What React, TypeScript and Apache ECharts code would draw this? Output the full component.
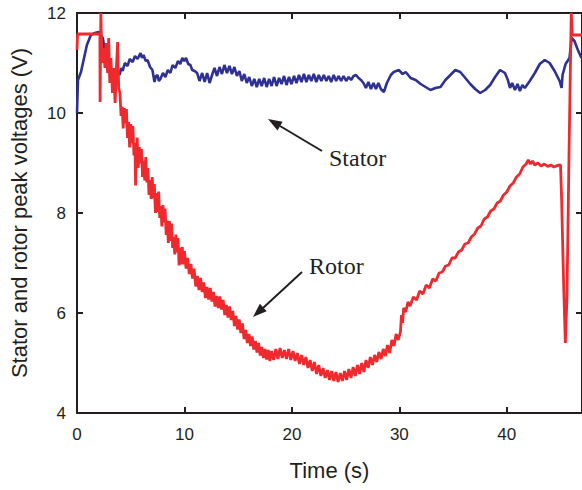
import { useEffect, useRef } from 'react';
import * as echarts from 'echarts';

// Stator peak voltage (blue)
const statorTime = [
  0, 0.09, 0.37, 0.92, 1.29, 1.66, 2.03, 2.4, 2.96, 3.33, 3.5, 3.7, 3.97, 4.1, 4.25, 4.45, 4.71, 4.9, 5.18, 5.4,
  5.64, 5.91, 6.05, 6.19, 6.4, 6.56, 6.8, 7.02, 7.21, 7.35, 7.49, 7.62, 7.76, 8.0, 8.23, 8.45, 8.69, 8.9, 9.15, 9.4,
  9.61, 9.8, 9.98, 10.15, 10.35, 10.55, 10.72, 10.95, 11.18, 11.4, 11.65, 11.88, 12.11, 12.34, 12.57, 12.8, 13.03, 13.26, 13.49, 13.72,
  13.96, 14.19, 14.42, 14.65, 14.88, 15.11, 15.34, 15.57, 15.8, 16.03, 16.27, 16.5, 16.73, 16.96, 17.19, 17.42, 17.65, 17.88, 18.11, 18.34,
  18.58, 18.81, 19.04, 19.27, 19.5, 19.73, 19.96, 20.2, 20.43, 20.66, 20.89, 21.12, 21.35, 21.58, 21.81, 22.04, 22.27, 22.5, 22.74, 22.97,
  23.2, 23.43, 23.66, 23.89, 24.12, 24.35, 24.58, 24.81, 25.05, 25.28, 25.51, 25.74, 25.97, 26.2, 26.43, 26.66, 26.89, 27.12, 27.36, 27.59,
  27.82, 28.05, 28.28, 28.56, 28.84, 29.21, 29.48, 29.94, 30.31, 30.59, 31.05, 31.52, 31.98, 32.44, 32.9, 33.36, 33.83, 34.29, 34.75, 35.21,
  35.67, 36.14, 36.6, 37.06, 37.52, 37.99, 38.45, 38.91, 39.37, 39.83, 40.1, 40.3, 40.5, 40.76, 41.0, 41.22, 41.45, 41.68, 42.14, 42.61,
  43.07, 43.53, 43.99, 44.45, 44.92, 45.1, 45.19, 45.47, 45.84, 46.03, 46.3, 46.58, 46.95,
];
const statorVolt = [
  10.0, 10.66, 10.82, 11.36, 11.56, 11.6, 11.62, 11.5, 10.8, 10.86, 10.78, 10.9, 10.76, 10.9, 10.84, 11.0, 10.94, 11.08, 11.02, 11.14,
  11.08, 11.2, 11.1, 11.16, 11.04, 11.06, 10.92, 10.86, 10.62, 10.74, 10.76, 10.64, 10.68, 10.8, 10.72, 10.86, 10.8, 10.96, 10.9, 11.04,
  10.98, 11.1, 11.04, 11.1, 10.98, 10.96, 10.86, 10.84, 10.8, 10.64, 10.8, 10.62, 10.8, 10.6, 10.76, 10.9, 10.74, 10.92, 10.78, 10.96,
  10.8, 10.94, 10.78, 10.92, 10.74, 10.84, 10.64, 10.78, 10.6, 10.72, 10.54, 10.68, 10.52, 10.68, 10.54, 10.7, 10.52, 10.68, 10.54, 10.72,
  10.54, 10.7, 10.58, 10.74, 10.56, 10.72, 10.58, 10.74, 10.6, 10.76, 10.62, 10.78, 10.62, 10.76, 10.64, 10.78, 10.62, 10.76, 10.64, 10.76,
  10.64, 10.74, 10.62, 10.76, 10.64, 10.74, 10.64, 10.74, 10.64, 10.72, 10.66, 10.74, 10.76, 10.7, 10.66, 10.6, 10.5, 10.62, 10.48, 10.6,
  10.48, 10.6, 10.48, 10.42, 10.6, 10.76, 10.82, 10.86, 10.78, 10.82, 10.7, 10.66, 10.58, 10.52, 10.46, 10.5, 10.52, 10.66, 10.76, 10.86,
  10.82, 10.7, 10.58, 10.48, 10.4, 10.46, 10.56, 10.72, 10.86, 10.8, 10.66, 10.5, 10.6, 10.46, 10.58, 10.44, 10.56, 10.5, 10.64, 10.8,
  10.98, 11.06, 11.0, 10.84, 10.64, 10.5, 10.76, 10.98, 11.1, 11.5, 11.44, 11.28, 11.1,
];

// Rotor peak voltage (red)
const rotorTime = [
  0, 0.05, 1.0, 2.13, 2.15, 2.22, 2.3, 2.4, 2.5, 2.6, 2.7, 2.85, 2.95, 3.05, 3.15, 3.3, 3.4, 3.55, 3.65, 3.78,
  3.88, 4.0, 4.1, 4.2, 4.3, 4.4, 4.5, 4.6, 4.7, 4.8, 4.9, 5.0, 5.1, 5.2, 5.3, 5.4, 5.45, 5.5, 5.6, 5.7,
  5.8, 5.9, 6.0, 6.1, 6.2, 6.3, 6.4, 6.5, 6.6, 6.7, 6.8, 6.9, 7.0, 7.1, 7.2, 7.3, 7.4, 7.5, 7.6, 7.7,
  7.8, 7.9, 8.0, 8.1, 8.2, 8.3, 8.4, 8.5, 8.6, 8.7, 8.8, 8.9, 9.0, 9.1, 9.2, 9.3, 9.4, 9.5, 9.6, 9.7,
  9.8, 9.9, 10.0, 10.15, 10.3, 10.45, 10.6, 10.75, 10.9, 11.05, 11.2, 11.35, 11.5, 11.65, 11.8, 11.95, 12.1, 12.25, 12.4, 12.55,
  12.7, 12.85, 13.0, 13.15, 13.3, 13.45, 13.6, 13.75, 13.9, 14.05, 14.2, 14.35, 14.5, 14.65, 14.8, 14.95, 15.1, 15.25, 15.4, 15.55,
  15.7, 15.85, 16.0, 16.15, 16.3, 16.45, 16.6, 16.75, 16.9, 17.05, 17.2, 17.35, 17.5, 17.65, 17.8, 17.95, 18.1, 18.3, 18.5, 18.7,
  18.9, 19.1, 19.3, 19.5, 19.7, 19.9, 20.1, 20.3, 20.5, 20.7, 20.9, 21.1, 21.3, 21.5, 21.7, 21.9, 22.1, 22.3, 22.5, 22.7,
  22.9, 23.1, 23.3, 23.5, 23.7, 23.9, 24.1, 24.3, 24.5, 24.7, 24.9, 25.1, 25.3, 25.5, 25.7, 25.9, 26.1, 26.3, 26.5, 26.7,
  26.9, 27.1, 27.3, 27.5, 27.7, 27.9, 28.1, 28.3, 28.5, 28.7, 28.9, 29.1, 29.3, 29.5, 29.7, 29.9, 30.1, 30.2, 30.3, 30.4,
  30.6, 30.8, 31.0, 31.3, 31.6, 31.9, 32.2, 32.5, 32.8, 33.1, 33.4, 33.7, 34.0, 34.3, 34.6, 34.9, 35.2, 35.5, 35.8, 36.1,
  36.4, 36.7, 37.0, 37.3, 37.6, 37.9, 38.2, 38.5, 38.8, 39.1, 39.4, 39.7, 40.0, 40.3, 40.6, 40.9, 41.2, 41.5, 41.8, 42.0,
  42.2, 42.4, 42.6, 42.9, 43.2, 43.5, 43.8, 44.1, 44.4, 44.7, 45.0, 45.1, 45.3, 45.45, 45.6, 45.8, 46.0, 46.1, 47.0,
];
const rotorVolt = [
  11.26, 11.58, 11.58, 11.58, 10.22, 12.0, 11.2, 11.0, 11.3, 10.9, 11.4, 10.8, 11.5, 10.6, 11.1, 10.4, 10.9, 10.2, 10.8, 11.42,
  10.5, 10.39, 9.94, 10.13, 9.69, 10.1, 9.79, 10.08, 9.5, 9.82, 9.31, 9.78, 9.39, 9.74, 9.15, 9.4, 8.55, 9.1, 9.51, 8.9,
  9.32, 8.99, 9.28, 8.72, 9.05, 8.65, 9.12, 8.61, 8.9, 8.36, 8.66, 8.28, 8.72, 8.29, 8.58, 8.0, 8.4, 8.02, 8.43, 7.9,
  8.14, 7.73, 8.16, 7.81, 8.09, 7.56, 7.85, 7.4, 7.84, 7.44, 7.79, 7.3, 7.52, 7.17, 7.57, 7.21, 7.5, 6.95, 7.31, 6.97,
  7.32, 6.97, 7.24, 6.89, 7.1, 6.78, 6.98, 6.69, 6.89, 6.53, 6.74, 6.46, 6.7, 6.42, 6.61, 6.3, 6.52, 6.27, 6.5, 6.23,
  6.42, 6.13, 6.34, 6.1, 6.33, 6.07, 6.26, 5.96, 6.16, 5.91, 6.13, 5.86, 6.04, 5.74, 5.94, 5.67, 5.87, 5.6, 5.79, 5.48,
  5.66, 5.4, 5.58, 5.34, 5.53, 5.27, 5.44, 5.21, 5.4, 5.15, 5.32, 5.1, 5.28, 5.07, 5.26, 5.04, 5.24, 5.06, 5.28, 5.08,
  5.3, 5.1, 5.26, 5.08, 5.28, 5.06, 5.24, 5.04, 5.2, 4.98, 5.16, 4.96, 5.12, 4.9, 5.06, 4.84, 5.02, 4.78, 4.96, 4.74,
  4.9, 4.7, 4.86, 4.66, 4.84, 4.64, 4.82, 4.62, 4.8, 4.64, 4.84, 4.66, 4.88, 4.7, 4.92, 4.74, 4.96, 4.78, 5.0, 4.82,
  5.06, 4.9, 5.12, 4.96, 5.16, 5.02, 5.22, 5.08, 5.28, 5.14, 5.36, 5.2, 5.46, 5.34, 5.58, 5.46, 5.62, 5.96, 5.8, 6.1,
  6.02, 6.22, 6.14, 6.32, 6.26, 6.44, 6.38, 6.56, 6.5, 6.68, 6.64, 6.8, 6.82, 6.94, 6.96, 7.1, 7.1, 7.22, 7.26, 7.38,
  7.4, 7.52, 7.58, 7.7, 7.74, 7.88, 7.92, 8.04, 8.08, 8.2, 8.24, 8.36, 8.42, 8.54, 8.6, 8.72, 8.78, 8.92, 8.98, 9.06,
  8.98, 9.04, 8.96, 9.0, 8.94, 8.98, 8.93, 8.96, 8.92, 8.95, 8.96, 8.3, 6.5, 5.4, 6.3, 9.3, 12.0, 11.56, 11.56,
];

const xLabelName = 'Time (s)';
const yLabelName = 'Stator and rotor peak voltages (V)';

const AXIS_COLOR = '#231f20';
const SANS = '"Liberation Sans", Arial, Helvetica, sans-serif';
const SERIF = '"Liberation Serif", "Times New Roman", serif';

export default function App() {
  const ref = useRef<HTMLDivElement>(null);

  useEffect(() => {
    document.body.style.margin = '0';
    if (!ref.current) return;
    const chart = echarts.init(ref.current, undefined, { renderer: 'svg' });

    const stator = statorTime.map((t, i) => [t, statorVolt[i]]);
    const rotor = rotorTime.map((t, i) => [t, rotorVolt[i]]);

    const axisLine = { show: true, onZero: false, lineStyle: { color: AXIS_COLOR, width: 2 } };
    const axisTick = { show: true, inside: true, length: 6, lineStyle: { color: AXIS_COLOR, width: 2 } };

    const option: any = {
      animation: false,
      grid: { left: 74, right: -1, top: 13, bottom: 77, containLabel: false },
      xAxis: [
        {
          type: 'value', min: 0, max: 47, interval: 10, position: 'bottom',
          name: xLabelName, nameLocation: 'middle', nameGap: 46,
          nameTextStyle: { fontSize: 22, color: AXIS_COLOR, fontFamily: SANS },
          axisLine, axisTick,
          axisLabel: { fontSize: 17, color: AXIS_COLOR, fontFamily: SANS, margin: 13, showMaxLabel: false },
          splitLine: { show: false },
        },
        {
          type: 'value', min: 0, max: 47, interval: 10, position: 'top',
          axisLine, axisTick, axisLabel: { show: false }, splitLine: { show: false },
        },
      ],
      yAxis: [
        {
          type: 'value', min: 4, max: 12, interval: 2, position: 'left',
          name: yLabelName, nameLocation: 'middle', nameGap: 47,
          nameTextStyle: { fontSize: 22, color: AXIS_COLOR, fontFamily: SANS },
          axisLine, axisTick,
          axisLabel: { fontSize: 17, color: AXIS_COLOR, fontFamily: SANS, margin: 11 },
          splitLine: { show: false },
        },
        {
          type: 'value', min: 4, max: 12, interval: 2, position: 'right',
          axisLine, axisTick, axisLabel: { show: false }, splitLine: { show: false },
        },
      ],
      series: [
        {
          name: 'Stator', type: 'line', data: stator, xAxisIndex: 0, yAxisIndex: 0,
          showSymbol: false, symbol: 'none', z: 2,
          lineStyle: { color: '#2E3192', width: 2.6 },
        },
        {
          name: 'Rotor', type: 'line', data: rotor, xAxisIndex: 0, yAxisIndex: 0,
          showSymbol: false, symbol: 'none', z: 3,
          lineStyle: { color: '#EE2A2E', width: 2.8 },
        },
      ],
      graphic: [
        {
          type: 'text', z: 10,
          style: { text: 'Stator', x: 329, y: 158, fontSize: 24, fontFamily: SERIF, fill: AXIS_COLOR, align: 'left', verticalAlign: 'middle' },
        },
        {
          type: 'text', z: 10,
          style: { text: 'Rotor', x: 309, y: 266, fontSize: 24, fontFamily: SERIF, fill: AXIS_COLOR, align: 'left', verticalAlign: 'middle' },
        },
        {
          type: 'line', z: 10,
          shape: { x1: 322, y1: 151, x2: 280, y2: 126 },
          style: { stroke: AXIS_COLOR, lineWidth: 2 },
        },
        {
          type: 'polygon', z: 10,
          shape: { points: [[268, 119], [282.6, 121.8], [277.5, 130.4]] },
          style: { fill: AXIS_COLOR },
        },
        {
          type: 'line', z: 10,
          shape: { x1: 302, y1: 272, x2: 263, y2: 308 },
          style: { stroke: AXIS_COLOR, lineWidth: 2 },
        },
        {
          type: 'polygon', z: 10,
          shape: { points: [[253, 317], [266.7, 311.2], [259.9, 303.8]] },
          style: { fill: AXIS_COLOR },
        },
      ],
    };

    chart.setOption(option);
    return () => chart.dispose();
  }, []);

  return <div ref={ref} style={{ width: 582, height: 490 }} />;
}
